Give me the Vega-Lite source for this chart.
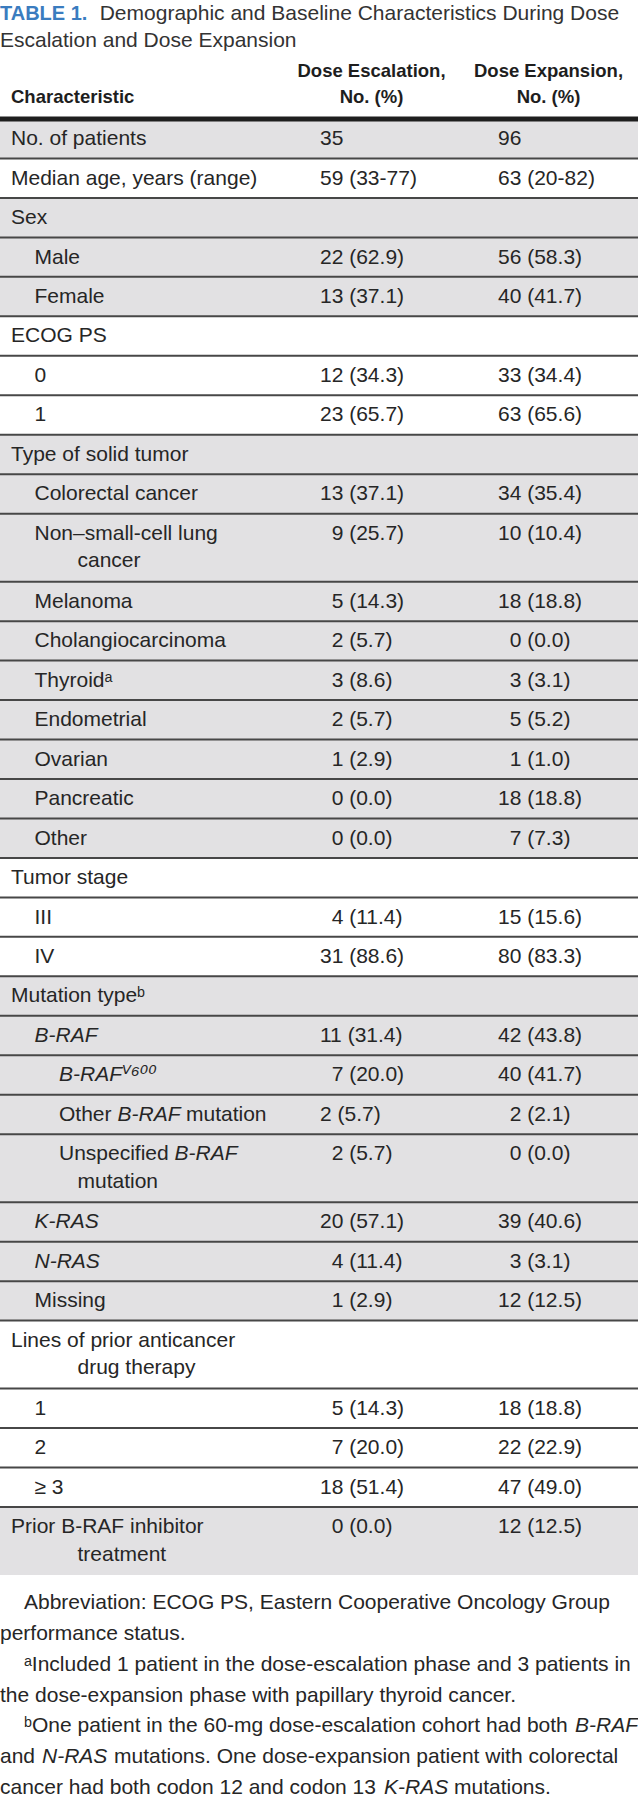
{
  "$schema": "https://vega.github.io/schema/vega-lite/v6.json",
  "width": 638,
  "height": 1799,
  "autosize": {"type": "none"},
  "padding": 0,
  "background": "#ffffff",
  "config": {
    "view": {"stroke": null},
    "text": {"font": "Liberation Sans, DejaVu Sans, sans-serif", "fontSize": 21, "fill": "#262626", "align": "left", "baseline": "middle"}
  },
  "datasets": {
    "rows": [
      {"n": 1, "label": "No. of patients", "esc": "35", "exp": "96", "section": 1, "level": 0, "lines": 1},
      {"n": 2, "label": "Median age, years (range)", "esc": "59 (33-77)", "exp": "63 (20-82)", "section": 2, "level": 0, "lines": 1},
      {"n": 3, "label": "Sex", "section": 3, "level": 0, "lines": 1},
      {"n": 4, "label": "Male", "esc": "22 (62.9)", "exp": "56 (58.3)", "section": 3, "level": 1, "lines": 1},
      {"n": 5, "label": "Female", "esc": "13 (37.1)", "exp": "40 (41.7)", "section": 3, "level": 1, "lines": 1},
      {"n": 6, "label": "ECOG PS", "section": 4, "level": 0, "lines": 1},
      {"n": 7, "label": "0", "esc": "12 (34.3)", "exp": "33 (34.4)", "section": 4, "level": 1, "lines": 1},
      {"n": 8, "label": "1", "esc": "23 (65.7)", "exp": "63 (65.6)", "section": 4, "level": 1, "lines": 1},
      {"n": 9, "label": "Type of solid tumor", "section": 5, "level": 0, "lines": 1},
      {"n": 10, "label": "Colorectal cancer", "esc": "13 (37.1)", "exp": "34 (35.4)", "section": 5, "level": 1, "lines": 1},
      {"n": 11, "label": "Non\u2013small-cell lung", "cont": "cancer", "esc": "\u200b\u20079 (25.7)", "exp": "10 (10.4)", "section": 5, "level": 1, "lines": 2},
      {"n": 12, "label": "Melanoma", "esc": "\u200b\u20075 (14.3)", "exp": "18 (18.8)", "section": 5, "level": 1, "lines": 1},
      {"n": 13, "label": "Cholangiocarcinoma", "esc": "\u200b\u20072 (5.7)", "exp": "\u200b\u20070 (0.0)", "section": 5, "level": 1, "lines": 1},
      {"n": 14, "label": "Thyroid\u1d43", "esc": "\u200b\u20073 (8.6)", "exp": "\u200b\u20073 (3.1)", "section": 5, "level": 1, "lines": 1},
      {"n": 15, "label": "Endometrial", "esc": "\u200b\u20072 (5.7)", "exp": "\u200b\u20075 (5.2)", "section": 5, "level": 1, "lines": 1},
      {"n": 16, "label": "Ovarian", "esc": "\u200b\u20071 (2.9)", "exp": "\u200b\u20071 (1.0)", "section": 5, "level": 1, "lines": 1},
      {"n": 17, "label": "Pancreatic", "esc": "\u200b\u20070 (0.0)", "exp": "18 (18.8)", "section": 5, "level": 1, "lines": 1},
      {"n": 18, "label": "Other", "esc": "\u200b\u20070 (0.0)", "exp": "\u200b\u20077 (7.3)", "section": 5, "level": 1, "lines": 1},
      {"n": 19, "label": "Tumor stage", "section": 6, "level": 0, "lines": 1},
      {"n": 20, "label": "III", "esc": "\u200b\u20074 (11.4)", "exp": "15 (15.6)", "section": 6, "level": 1, "lines": 1},
      {"n": 21, "label": "IV", "esc": "31 (88.6)", "exp": "80 (83.3)", "section": 6, "level": 1, "lines": 1},
      {"n": 22, "label": "Mutation type\u1d47", "section": 7, "level": 0, "lines": 1},
      {"n": 23, "label": "B-RAF", "gene": true, "esc": "11 (31.4)", "exp": "42 (43.8)", "section": 7, "level": 1, "lines": 1},
      {"n": 24, "label": "B-RAF\u2c7d\u2076\u2070\u2070", "gene": true, "esc": "\u200b\u20077 (20.0)", "exp": "40 (41.7)", "section": 7, "level": 2, "lines": 1},
      {"n": 25, "label": "Other", "run": "B-RAF", "tail": "mutation", "esc": "2 (5.7)", "exp": "\u200b\u20072 (2.1)", "section": 7, "level": 2, "lines": 1},
      {"n": 26, "label": "Unspecified", "run": "B-RAF", "cont": "mutation", "esc": "\u200b\u20072 (5.7)", "exp": "\u200b\u20070 (0.0)", "section": 7, "level": 2, "lines": 2},
      {"n": 27, "label": "K-RAS", "gene": true, "esc": "20 (57.1)", "exp": "39 (40.6)", "section": 7, "level": 1, "lines": 1},
      {"n": 28, "label": "N-RAS", "gene": true, "esc": "\u200b\u20074 (11.4)", "exp": "\u200b\u20073 (3.1)", "section": 7, "level": 1, "lines": 1},
      {"n": 29, "label": "Missing", "esc": "\u200b\u20071 (2.9)", "exp": "12 (12.5)", "section": 7, "level": 1, "lines": 1},
      {"n": 30, "label": "Lines of prior anticancer", "cont": "drug therapy", "section": 8, "level": 0, "lines": 2},
      {"n": 31, "label": "1", "esc": "\u200b\u20075 (14.3)", "exp": "18 (18.8)", "section": 8, "level": 1, "lines": 1},
      {"n": 32, "label": "2", "esc": "\u200b\u20077 (20.0)", "exp": "22 (22.9)", "section": 8, "level": 1, "lines": 1},
      {"n": 33, "label": "\u2265 3", "esc": "18 (51.4)", "exp": "47 (49.0)", "section": 8, "level": 1, "lines": 1},
      {"n": 34, "label": "Prior B-RAF inhibitor", "cont": "treatment", "esc": "\u200b\u20070 (0.0)", "exp": "12 (12.5)", "section": 9, "level": 0, "lines": 2}
    ],
    "head": [
      {"col": "label", "line": 2, "text": "Characteristic"},
      {"col": "esc", "line": 1, "text": "Dose Escalation,"},
      {"col": "esc", "line": 2, "text": "No. (%)"},
      {"col": "exp", "line": 1, "text": "Dose Expansion,"},
      {"col": "exp", "line": 2, "text": "No. (%)"}
    ],
    "title": [
      {"k": 1, "part": "label", "text": "TABLE 1."},
      {"k": 1, "part": "caption", "text": "Demographic and Baseline Characteristics During Dose"},
      {"k": 2, "part": "caption", "text": "Escalation and Dose Expansion"}
    ],
    "notes": [
      {"k": 1, "run": 1, "indent": 1, "text": "Abbreviation: ECOG PS, Eastern Cooperative Oncology Group"},
      {"k": 2, "run": 1, "indent": 0, "text": "performance status."},
      {"k": 3, "run": 1, "indent": 1, "text": "\u1d43Included 1 patient in the dose-escalation phase and 3 patients in"},
      {"k": 4, "run": 1, "indent": 0, "text": "the dose-expansion phase with papillary thyroid cancer."},
      {"k": 5, "run": 1, "indent": 1, "text": "\u1d47One patient in the 60-mg dose-escalation cohort had both"},
      {"k": 5, "run": 2, "text": "B-RAF"},
      {"k": 6, "run": 1, "indent": 0, "text": "and"},
      {"k": 6, "run": 2, "text": "N-RAS"},
      {"k": 6, "run": 3, "text": "mutations. One dose-expansion patient with colorectal"},
      {"k": 7, "run": 1, "indent": 0, "text": "cancer had both codon 12 and codon 13"},
      {"k": 7, "run": 2, "text": "K-RAS"},
      {"k": 7, "run": 3, "text": "mutations."}
    ]
  },
  "resolve": {"scale": {"x": "independent", "y": "independent", "color": "independent"}},
  "layer": [
    {
      "data": {"name": "rows"},
      "transform": [
        {"calculate": "datum.lines == 2 ? 1.723 : 1", "as": "h"},
        {"window": [{"op": "sum", "field": "h", "as": "bottom"}], "sort": [{"field": "n", "order": "ascending"}]},
        {"calculate": "datum.bottom - datum.h", "as": "top"},
        {"calculate": "datum.top + 0.51", "as": "mid"},
        {"calculate": "datum.top + 1.21", "as": "mid2"}
      ],
      "resolve": {"scale": {"x": "independent", "y": "independent", "color": "independent"}},
      "layer": [
        {
          "mark": {"type": "rect", "strokeWidth": 0},
          "encoding": {
            "x": {"value": 0},
            "x2": {"value": "width"},
            "y": {"field": "top", "type": "quantitative", "scale": {"domain": [0, 36.892], "range": [119, 1575], "nice": false, "zero": false}, "axis": null},
            "y2": {"field": "bottom"},
            "color": {"field": "section", "type": "ordinal", "scale": {"domain": [1, 2, 3, 4, 5, 6, 7, 8, 9], "range": ["#e2e1e3", "#ffffff", "#e2e1e3", "#ffffff", "#e2e1e3", "#ffffff", "#e2e1e3", "#ffffff", "#e2e1e3"]}, "legend": null}
          }
        },
        {
          "transform": [{"filter": "datum.n < 34"}],
          "mark": {"type": "rule", "color": "#474747", "strokeWidth": 2},
          "encoding": {
            "y": {"field": "bottom", "type": "quantitative", "scale": {"domain": [0, 36.892], "range": [119, 1575], "nice": false, "zero": false}, "axis": null}
          }
        },
        {
          "transform": [{"filter": "datum.n == 1"}],
          "mark": {"type": "rule", "color": "#1e1e1e", "strokeWidth": 5},
          "encoding": {
            "y": {"field": "top", "type": "quantitative", "scale": {"domain": [0, 36.892], "range": [119, 1575], "nice": false, "zero": false}, "axis": null}
          }
        },
        {
          "transform": [{"filter": "!datum.gene"}],
          "mark": {"type": "text"},
          "encoding": {
            "x": {"field": "level", "type": "quantitative", "scale": {"domain": [0, 1, 2, 3], "range": [11, 34.5, 59, 77.5], "nice": false, "zero": false}, "axis": null},
            "y": {"field": "mid", "type": "quantitative", "scale": {"domain": [0, 36.892], "range": [119, 1575], "nice": false, "zero": false}, "axis": null},
            "text": {"field": "label", "type": "nominal"}
          }
        },
        {
          "transform": [{"filter": "datum.gene"}],
          "mark": {"type": "text", "fontStyle": "italic"},
          "encoding": {
            "x": {"field": "level", "type": "quantitative", "scale": {"domain": [0, 1, 2, 3], "range": [11, 34.5, 59, 77.5], "nice": false, "zero": false}, "axis": null},
            "y": {"field": "mid", "type": "quantitative", "scale": {"domain": [0, 36.892], "range": [119, 1575], "nice": false, "zero": false}, "axis": null},
            "text": {"field": "label", "type": "nominal"}
          }
        },
        {
          "transform": [{"filter": "datum.cont"}],
          "mark": {"type": "text"},
          "encoding": {
            "x": {"datum": 3, "type": "quantitative", "scale": {"domain": [0, 1, 2, 3], "range": [11, 34.5, 59, 77.5], "nice": false, "zero": false}, "axis": null},
            "y": {"field": "mid2", "type": "quantitative", "scale": {"domain": [0, 36.892], "range": [119, 1575], "nice": false, "zero": false}, "axis": null},
            "text": {"field": "cont", "type": "nominal"}
          }
        },
        {
          "transform": [{"filter": "datum.run"}],
          "mark": {"type": "text", "fontStyle": "italic"},
          "encoding": {
            "x": {"field": "n", "type": "quantitative", "scale": {"domain": [25, 26], "range": [117.5, 174.5], "nice": false, "zero": false}, "axis": null},
            "y": {"field": "mid", "type": "quantitative", "scale": {"domain": [0, 36.892], "range": [119, 1575], "nice": false, "zero": false}, "axis": null},
            "text": {"field": "run", "type": "nominal"}
          }
        },
        {
          "transform": [{"filter": "datum.tail"}],
          "mark": {"type": "text"},
          "encoding": {
            "x": {"field": "n", "type": "quantitative", "scale": {"domain": [25, 26], "range": [186, 186], "nice": false, "zero": false}, "axis": null},
            "y": {"field": "mid", "type": "quantitative", "scale": {"domain": [0, 36.892], "range": [119, 1575], "nice": false, "zero": false}, "axis": null},
            "text": {"field": "tail", "type": "nominal"}
          }
        },
        {
          "transform": [
            {"fold": ["esc", "exp"], "as": ["cohort", "value"]},
            {"filter": "datum.value"}
          ],
          "mark": {"type": "text"},
          "encoding": {
            "x": {"field": "cohort", "type": "nominal", "scale": {"type": "point", "domain": ["esc", "exp"], "range": [320, 498], "padding": 0}, "axis": null},
            "y": {"field": "mid", "type": "quantitative", "scale": {"domain": [0, 36.892], "range": [119, 1575], "nice": false, "zero": false}, "axis": null},
            "text": {"field": "value", "type": "nominal"}
          }
        }
      ]
    },
    {
      "data": {"name": "head"},
      "transform": [{"filter": "datum.col == 'label'"}],
      "mark": {"type": "text", "fontWeight": "bold", "fontSize": 18.5, "fill": "#1e1e1e"},
      "encoding": {
        "x": {"datum": 0, "type": "quantitative", "scale": {"domain": [0, 1, 2, 3], "range": [11, 34.5, 59, 77.5], "nice": false, "zero": false}, "axis": null},
        "y": {"field": "line", "type": "quantitative", "scale": {"domain": [1, 2], "range": [71, 97], "nice": false, "zero": false}, "axis": null},
        "text": {"field": "text", "type": "nominal"}
      }
    },
    {
      "data": {"name": "head"},
      "transform": [{"filter": "datum.col != 'label'"}],
      "mark": {"type": "text", "align": "center", "fontWeight": "bold", "fontSize": 18.5, "fill": "#1e1e1e"},
      "encoding": {
        "x": {"field": "col", "type": "nominal", "scale": {"type": "point", "domain": ["esc", "exp"], "range": [371.5, 548.5], "padding": 0}, "axis": null},
        "y": {"field": "line", "type": "quantitative", "scale": {"domain": [1, 2], "range": [71, 97], "nice": false, "zero": false}, "axis": null},
        "text": {"field": "text", "type": "nominal"}
      }
    },
    {
      "data": {"name": "title"},
      "transform": [{"filter": "datum.part == 'label'"}],
      "mark": {"type": "text", "fontWeight": "bold", "fontSize": 20, "fill": "#3a7cbf"},
      "encoding": {
        "x": {"datum": 0, "type": "quantitative", "scale": {"domain": [0, 1], "range": [0, 24], "nice": false, "zero": false}, "axis": null},
        "y": {"field": "k", "type": "quantitative", "scale": {"domain": [1, 2], "range": [14, 41], "nice": false, "zero": false}, "axis": null},
        "text": {"field": "text", "type": "nominal"}
      }
    },
    {
      "data": {"name": "title"},
      "transform": [{"filter": "datum.part == 'caption'"}],
      "mark": {"type": "text", "fill": "#333333"},
      "encoding": {
        "x": {"field": "k", "type": "quantitative", "scale": {"domain": [1, 2], "range": [99.7, 0], "nice": false, "zero": false}, "axis": null},
        "y": {"field": "k", "type": "quantitative", "scale": {"domain": [1, 2], "range": [14, 41], "nice": false, "zero": false}, "axis": null},
        "text": {"field": "text", "type": "nominal"}
      }
    },
    {
      "data": {"name": "notes"},
      "transform": [{"filter": "datum.run == 1"}],
      "mark": {"type": "text"},
      "encoding": {
        "x": {"field": "indent", "type": "quantitative", "scale": {"domain": [0, 1], "range": [0, 24], "nice": false, "zero": false}, "axis": null},
        "y": {"field": "k", "type": "quantitative", "scale": {"domain": [1, 7], "range": [1603, 1788], "nice": false, "zero": false}, "axis": null},
        "text": {"field": "text", "type": "nominal"}
      }
    },
    {
      "data": {"name": "notes"},
      "transform": [{"filter": "datum.run == 2"}],
      "mark": {"type": "text", "fontStyle": "italic"},
      "encoding": {
        "x": {"field": "k", "type": "quantitative", "scale": {"domain": [5, 6, 7], "range": [575, 42, 384], "nice": false, "zero": false}, "axis": null},
        "y": {"field": "k", "type": "quantitative", "scale": {"domain": [1, 7], "range": [1603, 1788], "nice": false, "zero": false}, "axis": null},
        "text": {"field": "text", "type": "nominal"}
      }
    },
    {
      "data": {"name": "notes"},
      "transform": [{"filter": "datum.run == 3"}],
      "mark": {"type": "text"},
      "encoding": {
        "x": {"field": "k", "type": "quantitative", "scale": {"domain": [6, 7], "range": [114, 454], "nice": false, "zero": false}, "axis": null},
        "y": {"field": "k", "type": "quantitative", "scale": {"domain": [1, 7], "range": [1603, 1788], "nice": false, "zero": false}, "axis": null},
        "text": {"field": "text", "type": "nominal"}
      }
    }
  ]
}
